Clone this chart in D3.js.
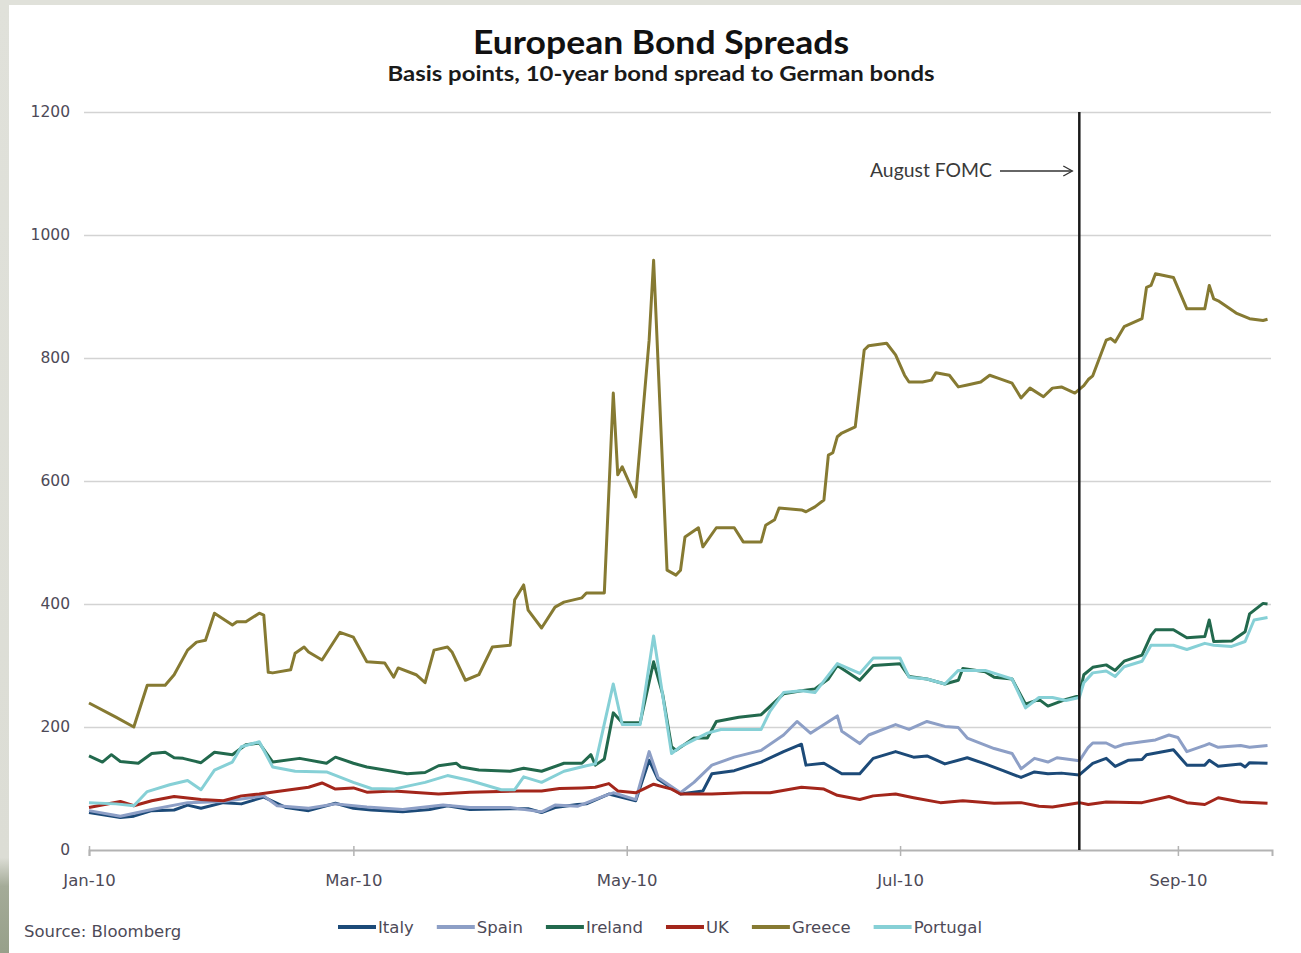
<!DOCTYPE html>
<html>
<head>
<meta charset="utf-8">
<script src="https://cdn.jsdelivr.net/npm/d3@7"></script>
<style>
  html, body { margin: 0; padding: 0; background: #dfe0d9; }
  svg { display: block; }
</style>
</head>
<body>
<svg id="chart" width="1301" height="953"></svg>
<script>
// ---------------- DATA ----------------
const seriesNames = ["Italy", "Spain", "Ireland", "UK", "Greece", "Portugal"];
const yTicks = [0, 200, 400, 600, 800, 1000, 1200];
const xTickDates = ["2010-01-01", "2010-03-01", "2010-05-01", "2010-07-01", "2010-09-01"];
const xTickLabels = ["Jan-10", "Mar-10", "May-10", "Jul-10", "Sep-10"];
const fomcDate = "2010-08-10";
const fomcLabel = "August FOMC";
const titleText = "European Bond Spreads";
const subtitleText = "Basis points, 10-year bond spread to German bonds";
const sourceText = "Source: Bloomberg";

const italy = [["01-01",61],["01-08",53],["01-11",55],["01-15",64],["01-20",65],["01-23",73],["01-26",68],["01-31",77],["02-04",75],["02-09",86],["02-14",69],["02-19",64],["02-25",76],["03-01",68],["03-05",65],["03-12",62],["03-18",66],["03-22",72],["03-27",66],["04-05",67],["04-09",67],["04-12",61],["04-15",69],["04-20",74],["04-22",75],["04-27",91],["05-03",80],["05-06",146],["05-08",115],["05-13",91],["05-18",96],["05-20",124],["05-25",129],["05-31",143],["06-05",160],["06-09",172],["06-10",138],["06-14",141],["06-18",124],["06-22",124],["06-25",149],["06-30",160],["07-04",151],["07-07",153],["07-11",140],["07-16",150],["07-20",140],["07-24",129],["07-28",118],["07-31",127],["08-03",124],["08-06",125],["08-10",122],["08-13",141],["08-16",149],["08-18",136],["08-21",146],["08-24",147],["08-25",155],["08-31",163],["09-03",138],["09-07",138],["09-08",146],["09-10",136],["09-15",140],["09-16",135],["09-17",142],["09-21",141]];

const spain = [["01-01",64],["01-08",55],["01-15",66],["01-23",77],["01-31",79],["02-09",88],["02-12",72],["02-19",68],["02-25",75],["03-04",70],["03-12",66],["03-21",73],["03-27",69],["04-05",69],["04-12",62],["04-15",73],["04-20",71],["04-26",88],["04-28",93],["05-03",82],["05-06",160],["05-08",118],["05-13",93],["05-16",110],["05-20",138],["05-25",151],["05-31",162],["06-05",187],["06-08",209],["06-11",190],["06-17",218],["06-18",193],["06-22",173],["06-24",187],["06-30",204],["07-03",196],["07-07",209],["07-11",201],["07-14",199],["07-16",182],["07-22",165],["07-26",157],["07-28",132],["07-31",149],["08-03",143],["08-05",150],["08-10",145],["08-12",167],["08-13",174],["08-16",174],["08-18",167],["08-20",172],["08-24",176],["08-27",179],["08-30",187],["09-01",183],["09-03",160],["09-07",170],["09-08",173],["09-10",167],["09-15",170],["09-17",167],["09-21",170]];

const ireland = [["01-01",153],["01-04",143],["01-06",155],["01-08",144],["01-12",141],["01-15",157],["01-18",159],["01-20",150],["01-22",149],["01-26",142],["01-29",159],["02-02",155],["02-05",171],["02-08",174],["02-11",143],["02-17",149],["02-23",141],["02-25",151],["03-01",141],["03-04",135],["03-08",130],["03-13",124],["03-17",126],["03-20",137],["03-24",141],["03-25",135],["03-29",130],["04-05",128],["04-08",133],["04-12",128],["04-17",141],["04-21",141],["04-23",155],["04-24",138],["04-26",148],["04-28",223],["04-30",207],["05-04",207],["05-07",306],["05-09",254],["05-11",168],["05-12",162],["05-16",182],["05-19",182],["05-21",209],["05-26",216],["05-31",220],["06-05",254],["06-09",259],["06-12",262],["06-15",278],["06-17",300],["06-22",276],["06-25",300],["07-01",303],["07-03",282],["07-07",278],["07-11",270],["07-14",276],["07-15",295],["07-20",290],["07-22",281],["07-26",278],["07-29",237],["08-01",245],["08-03",234],["08-07",245],["08-10",251],["08-11",285],["08-13",297],["08-16",301],["08-18",292],["08-20",307],["08-24",317],["08-26",349],["08-27",358],["08-31",358],["09-03",345],["09-07",347],["09-08",374],["09-09",339],["09-13",340],["09-16",355],["09-17",384],["09-20",401],["09-21",400]];

const uk = [["01-01",69],["01-08",79],["01-11",72],["01-15",80],["01-20",87],["01-26",82],["01-31",80],["02-04",88],["02-08",91],["02-12",95],["02-19",102],["02-22",109],["02-25",99],["03-01",101],["03-04",94],["03-10",96],["03-20",91],["03-27",94],["04-07",96],["04-12",96],["04-16",100],["04-21",101],["04-24",102],["04-27",108],["04-29",96],["05-03",93],["05-07",107],["05-11",99],["05-13",91],["05-20",91],["05-27",93],["06-02",93],["06-09",102],["06-14",99],["06-17",89],["06-22",82],["06-25",88],["06-30",91],["07-04",85],["07-10",77],["07-15",80],["07-22",76],["07-28",77],["08-01",71],["08-04",70],["08-10",77],["08-12",74],["08-16",78],["08-24",77],["08-30",87],["09-03",77],["09-07",74],["09-10",85],["09-15",78],["09-21",76]];

const greece = [["01-01",239],["01-07",216],["01-11",200],["01-14",268],["01-18",268],["01-20",285],["01-23",325],["01-25",338],["01-27",341],["01-29",385],["02-02",366],["02-03",371],["02-05",371],["02-08",385],["02-09",382],["02-10",289],["02-11",288],["02-15",293],["02-16",320],["02-18",330],["02-19",322],["02-22",309],["02-26",354],["03-01",346],["03-04",306],["03-08",304],["03-10",281],["03-11",296],["03-15",285],["03-17",272],["03-19",325],["03-22",330],["03-23",322],["03-26",276],["03-29",285],["04-01",330],["04-05",333],["04-06",407],["04-08",431],["04-09",390],["04-12",361],["04-15",395],["04-17",403],["04-21",410],["04-22",418],["04-26",418],["04-28",743],["04-29",610],["04-30",623],["05-03",574],["05-06",829],["05-07",959],["05-10",455],["05-12",447],["05-13",455],["05-14",509],["05-17",524],["05-18",493],["05-21",524],["05-25",524],["05-27",501],["05-31",501],["06-01",528],["06-03",537],["06-04",556],["06-09",553],["06-10",550],["06-12",558],["06-14",569],["06-15",642],["06-16",646],["06-17",672],["06-18",678],["06-21",688],["06-23",813],["06-24",820],["06-28",824],["06-30",805],["07-02",772],["07-03",761],["07-06",761],["07-08",764],["07-09",776],["07-12",772],["07-14",753],["07-16",756],["07-19",761],["07-21",772],["07-23",767],["07-26",759],["07-28",735],["07-30",751],["08-02",737],["08-04",751],["08-06",753],["08-09",743],["08-11",755],["08-12",765],["08-13",771],["08-16",829],["08-17",832],["08-18",826],["08-20",851],["08-24",864],["08-25",915],["08-26",918],["08-27",937],["08-31",931],["09-03",880],["09-07",880],["09-08",918],["09-09",896],["09-10",893],["09-14",873],["09-17",864],["09-20",861],["09-21",863]];

const portugal = [["01-01",77],["01-07",75],["01-11",72],["01-14",95],["01-19",106],["01-23",113],["01-26",98],["01-29",130],["02-02",143],["02-04",168],["02-08",176],["02-11",135],["02-16",128],["02-23",127],["03-01",110],["03-05",100],["03-10",99],["03-17",110],["03-22",121],["03-27",113],["04-03",98],["04-06",98],["04-08",119],["04-12",110],["04-17",128],["04-22",137],["04-24",140],["04-28",270],["04-30",204],["05-04",204],["05-07",348],["05-11",157],["05-13",168],["05-19",190],["05-22",196],["05-31",196],["06-02",226],["06-05",256],["06-09",259],["06-12",256],["06-17",303],["06-22",287],["06-25",312],["07-01",312],["07-03",281],["07-07",278],["07-11",270],["07-14",292],["07-20",292],["07-26",278],["07-29",231],["08-01",248],["08-04",248],["08-07",243],["08-10",248],["08-11",272],["08-13",288],["08-16",291],["08-18",282],["08-20",298],["08-24",307],["08-26",333],["08-31",333],["09-03",326],["09-07",336],["09-09",333],["09-13",331],["09-16",339],["09-18",374],["09-21",378]];

// ---------------- STYLE ----------------
const seriesColors = ["#1c4a78", "#8d9fc6", "#22694d", "#a3261b", "#867a32", "#86d0d6"];

// ---------------- DRAW ----------------
(function () {
  const svg = d3.select("#chart");
  const W = 1301, H = 953;
  const parse = d3.timeParse("%Y-%m-%d");
  const year = "2010-";
  const labelFont = "'DejaVu Sans', Verdana, sans-serif";
  const labelColor = "#4d4a57";

  const pL = 89, pR = 1272, pT = 112, pB = 850;
  const x = d3.scaleTime().domain([parse("2010-01-01"), parse("2010-09-22")]).range([pL, pR]);
  const y = d3.scaleLinear().domain([0, 1200]).range([pB, pT]);

  // page background
  svg.append("rect").attr("x", 0).attr("y", 0).attr("width", W).attr("height", H).attr("fill", "#e0e1da");
  const grad = svg.append("defs").append("linearGradient").attr("id", "lg").attr("x1", 0).attr("y1", 0).attr("x2", 0).attr("y2", 1);
  grad.append("stop").attr("offset", "0%").attr("stop-color", "#e0e1da");
  grad.append("stop").attr("offset", "90%").attr("stop-color", "#dcddd5");
  grad.append("stop").attr("offset", "93%").attr("stop-color", "#a4ab98");
  grad.append("stop").attr("offset", "100%").attr("stop-color", "#97a08a");
  svg.append("rect").attr("x", 0).attr("y", 0).attr("width", 9).attr("height", H).attr("fill", "url(#lg)");
  svg.append("rect").attr("x", 9).attr("y", 5).attr("width", W - 9).attr("height", H - 5).attr("fill", "#ffffff");

  // title
  svg.append("text").attr("x", 661).attr("y", 54).attr("text-anchor", "middle")
    .attr("font-family", "Lato, 'Open Sans', sans-serif").attr("font-weight", 700)
    .attr("font-size", 33).attr("fill", "#111")
    .attr("textLength", 376).attr("lengthAdjust", "spacingAndGlyphs")
    .text(titleText);
  svg.append("text").attr("x", 661).attr("y", 81).attr("text-anchor", "middle")
    .attr("font-family", "Lato, 'Open Sans', sans-serif").attr("font-weight", 700)
    .attr("font-size", 20).attr("fill", "#1a1a1a")
    .attr("textLength", 547).attr("lengthAdjust", "spacingAndGlyphs")
    .text(subtitleText);

  // y axis with gridlines
  const gy = svg.append("g").attr("transform", `translate(${pL - 5},0)`)
    .call(d3.axisLeft(y).tickValues(yTicks).tickSize(-(pR - pL + 4)).tickPadding(14).tickFormat(d3.format("d")));
  gy.select(".domain").remove();
  gy.selectAll(".tick line").attr("stroke", "#d3d3d3").attr("stroke-width", 1.5);
  gy.selectAll(".tick").filter(d => d === 0).select("line").attr("stroke", "none");
  gy.selectAll("text").attr("font-family", labelFont).attr("font-size", 15.5).attr("fill", labelColor);

  // x axis
  const gx = svg.append("g").attr("transform", `translate(0,${pB})`)
    .call(d3.axisBottom(x).tickValues(xTickDates.map(parse)).tickSize(6).tickSizeOuter(6).tickPadding(18)
      .tickFormat((d, i) => xTickLabels[i]));
  gx.select(".domain").attr("stroke", "#b3b3b3").attr("stroke-width", 2);
  gx.selectAll(".tick line").attr("stroke", "#b3b3b3").attr("stroke-width", 1.5).attr("y1", -4);
  gx.selectAll("text").attr("font-family", labelFont).attr("font-size", 16.5).attr("fill", labelColor);

  // lines
  const allSeries = [italy, spain, ireland, uk, greece, portugal];
  const line = d3.line().x(d => x(parse(year + d[0]))).y(d => y(d[1]));
  allSeries.forEach((s, i) => {
    svg.append("path").datum(s).attr("d", line).attr("fill", "none")
      .attr("stroke", seriesColors[i]).attr("stroke-width", 3).attr("stroke-linejoin", "round");
  });

  // FOMC line
  const fx = x(parse(fomcDate));
  svg.append("line").attr("x1", fx).attr("x2", fx).attr("y1", y(1200)).attr("y2", pB)
    .attr("stroke", "#1a1a1a").attr("stroke-width", 2.5);
  svg.append("text").attr("x", 992).attr("y", 177).attr("text-anchor", "end")
    .attr("font-family", "Lato, 'Open Sans', sans-serif").attr("font-size", 20).attr("fill", "#3a3a3a")
    .attr("textLength", 122).attr("lengthAdjust", "spacingAndGlyphs")
    .text(fomcLabel);
  svg.append("line").attr("x1", 1000).attr("x2", fx - 7).attr("y1", 171).attr("y2", 171)
    .attr("stroke", "#333").attr("stroke-width", 1.3);
  svg.append("path").attr("d", `M${fx - 16},166 L${fx - 7},171 L${fx - 16},176`)
    .attr("fill", "none").attr("stroke", "#333").attr("stroke-width", 1.3);

  // source
  svg.append("text").attr("x", 24).attr("y", 937)
    .attr("font-family", labelFont).attr("font-size", 16.5).attr("fill", labelColor)
    .text(sourceText);

  // legend
  const lg = svg.append("g");
  let lx = 338;
  seriesNames.forEach((n, i) => {
    lg.append("line").attr("x1", lx).attr("x2", lx + 38).attr("y1", 927).attr("y2", 927)
      .attr("stroke", seriesColors[i]).attr("stroke-width", 4);
    const t = lg.append("text").attr("x", lx + 40).attr("y", 933)
      .attr("font-family", labelFont).attr("font-size", 16.5).attr("fill", labelColor)
      .text(n);
    lx += 40 + t.node().getComputedTextLength() + 23;
  });
})();
</script>
</body>
</html>
